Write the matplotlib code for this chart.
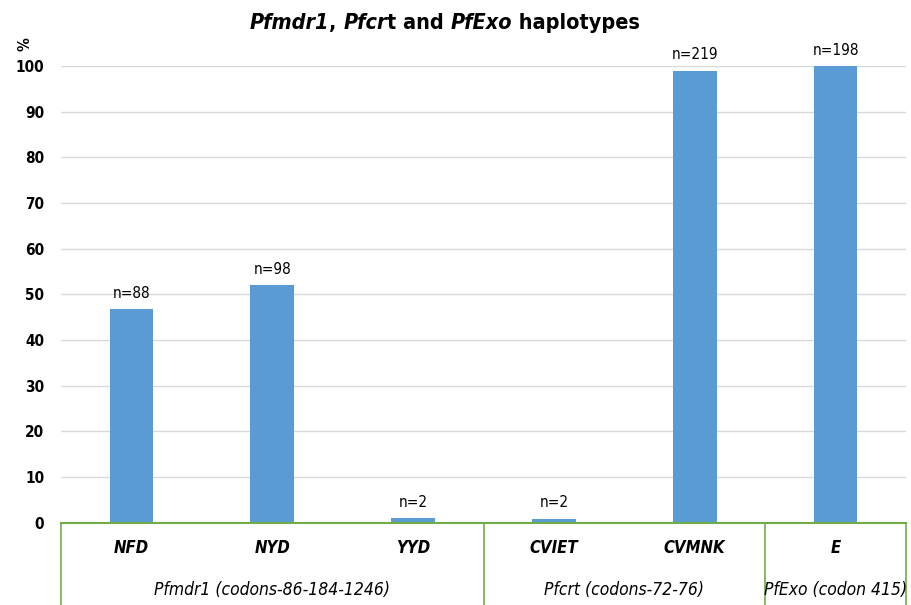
import matplotlib
matplotlib.use('Agg')
import matplotlib.pyplot as plt
import matplotlib.transforms as mtransforms

plt.rcParams['font.family'] = ['DejaVu Sans']
plt.rcParams['font.stretch'] = 'condensed'

# data
haplotypes = ['NFD', 'NYD', 'YYD', 'CVIET', 'CVMNK', 'E']
percent = [46.8, 52.0, 1.0, 0.9, 99.0, 100.0]
counts = ['n=88', 'n=98', 'n=2', 'n=2', 'n=219', 'n=198']
groups = ['Pfmdr1 (codons-86-184-1246)', 'Pfcrt (codons-72-76)', 'PfExo (codon 415)']
group_spans = [(0, 2), (3, 4), (5, 5)]
title_parts = [('Pfmdr1', 'italic'), (', ', 'normal'), ('Pfcr', 'italic'),
               ('t and ', 'normal'), ('PfExo', 'italic'), (' haplotypes', 'normal')]

bar_color = '#5B9BD5'
green = '#70AD47'

fig = plt.figure(figsize=(9.11, 6.05), dpi=100)
ax = fig.add_axes([0.067, 0.136, 0.9275, 0.755])

x = list(range(len(haplotypes)))
ax.bar(x, percent, width=0.31, color=bar_color, zorder=3)
ax.set_xlim(-0.5, len(haplotypes) - 0.5)
ax.set_ylim(0, 100)
ax.set_yticks(range(0, 101, 10))
ax.yaxis.grid(True, color='#D9D9D9', lw=1, zorder=0)
ax.tick_params(axis='y', length=0, pad=12, labelsize=11)
for lab in ax.get_yticklabels():
    lab.set_fontweight('bold')
ax.set_xticks([])
for s in ['left', 'right', 'top']:
    ax.spines[s].set_visible(False)
ax.spines['bottom'].set_color(green)
ax.spines['bottom'].set_linewidth(1.5)
ax.spines['bottom'].set_zorder(4)

# count labels
for xi, v, c in zip(x, percent, counts):
    ax.annotate(c, (xi, v), xytext=(0, 6), textcoords='offset points',
                ha='center', va='bottom', fontsize=11, annotation_clip=False)

# category box below the axis
trans = mtransforms.blended_transform_factory(ax.transData, ax.transAxes)
for bx in [-0.5, 2.5, 4.5, 5.5]:
    ax.plot([bx, bx], [0, -0.3], color=green, lw=1.2, transform=trans, clip_on=False)
for xi, h in zip(x, haplotypes):
    ax.text(xi, -0.055, h, transform=trans, ha='center', va='center',
            fontsize=12, style='italic', fontweight='bold')
for g, (a, b) in zip(groups, group_spans):
    ax.text((a + b) / 2, -0.147, g, transform=trans, ha='center', va='center',
            fontsize=12.5, style='italic')

ax.text(-0.043, 1.048, '%', transform=ax.transAxes, ha='center', va='center',
        fontsize=11, fontweight='bold', rotation=90)

# title built from pieces (mixed italic / upright)
renderer = fig.canvas.get_renderer()
pieces = []
for txt, st in title_parts:
    t = fig.text(0, 0.962, txt, ha='left', va='center', fontsize=15.5,
                 fontweight='bold', style=st)
    pieces.append(t)
widths = [p.get_window_extent(renderer).width for p in pieces]
total = sum(widths)
x0 = 0.488 * fig.bbox.width - total / 2
for p, w in zip(pieces, widths):
    p.set_x(x0 / fig.bbox.width)
    x0 += w

fig.savefig('out.png', dpi=100)
